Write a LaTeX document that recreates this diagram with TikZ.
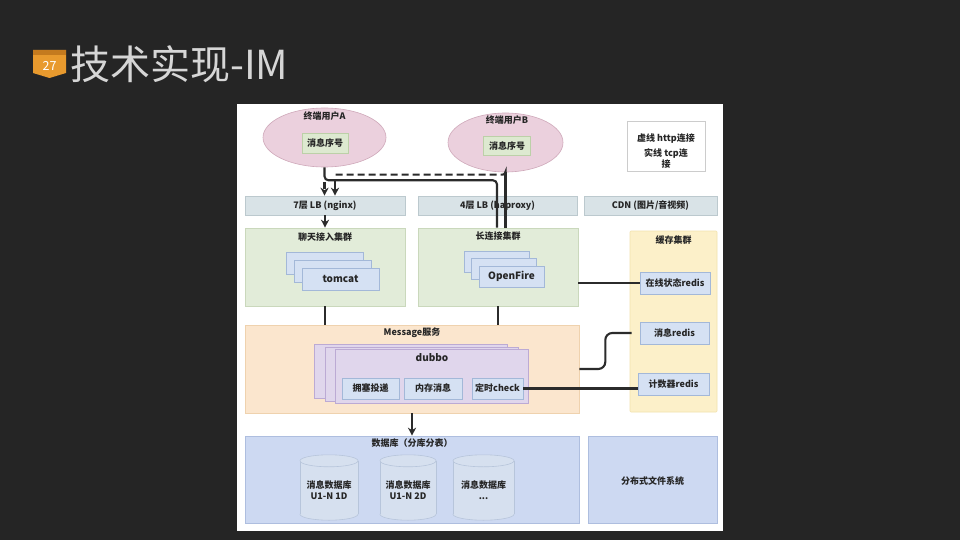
\documentclass[tikz,border=0pt]{standalone}
\usepackage{fontspec}
\setmainfont{Noto Sans CJK SC}
\usetikzlibrary{shapes.geometric,arrows.meta,calc}
\definecolor{bg}{HTML}{252525}
\definecolor{titlec}{HTML}{D6D6D6}
\definecolor{badge}{HTML}{E89A2E}
\definecolor{badgetop}{HTML}{C47A1E}
\definecolor{pinkf}{HTML}{EBD0DD}
\definecolor{pinkd}{HTML}{CFA9BA}
\definecolor{greenf}{HTML}{DDE9D0}
\definecolor{greend}{HTML}{BCD0A8}
\definecolor{clgf}{HTML}{E2ECD9}
\definecolor{clgd}{HTML}{CAD8BC}
\definecolor{lbf}{HTML}{D9E3E7}
\definecolor{lbd}{HTML}{BCC9CE}
\definecolor{bluef}{HTML}{D5E1F3}
\definecolor{blued}{HTML}{A3B8D8}
\definecolor{yellf}{HTML}{FCF0C9}
\definecolor{yelld}{HTML}{F2E2AE}
\definecolor{orgf}{HTML}{FBE6CE}
\definecolor{orgd}{HTML}{EFD2AE}
\definecolor{purf}{HTML}{E0D6EC}
\definecolor{purd}{HTML}{BCAAD4}
\definecolor{dbf}{HTML}{CDD9F2}
\definecolor{dbd}{HTML}{AEBEDF}
\definecolor{cylf}{HTML}{D6E0EF}
\definecolor{cyld}{HTML}{B7C5DB}
\definecolor{linec}{HTML}{2B2B2B}
\tikzset{
  lbl/.style={font=\fontsize{9}{10.5}\selectfont\bfseries, text=black!85, inner sep=0pt},
  boxed/.style={rectangle, draw, line width=0.6pt, inner sep=0pt},
  userell/.style={ellipse, draw=pinkd, fill=pinkf, line width=0.6pt, inner sep=0pt},
  seqbox/.style={boxed, draw=greend, fill=greenf, minimum height=20pt, lbl},
  lbbox/.style={boxed, draw=lbd, fill=lbf, minimum height=19pt, lbl},
  clusterg/.style={boxed, draw=clgd, fill=clgf, minimum height=78pt},
  bluebox/.style={boxed, draw=blued, fill=bluef, lbl},
  cylarea/.style={rectangle, inner sep=0pt, minimum height=65pt},
  cylline/.style={draw=cyld, fill=cylf, line width=0.6pt},
  conn/.style={draw=linec, line width=2.1pt},
  tcp/.style={conn, rounded corners=4pt},
  http/.style={conn, dash pattern=on 7pt off 4pt},
  tip/.style={-{Stealth[length=8pt,width=8pt,inset=2.5pt]}},
}
\begin{document}
\begin{tikzpicture}[x=1pt,y=-1pt]
\useasboundingbox (0,0) rectangle (960,540);
\fill[bg] (0,0) rectangle (960,540);
% title
\fill[badge] (33,50) -- (66,50) -- (66,73) -- (49.5,78) -- (33,73) -- cycle;
\fill[badgetop] (33,50) rectangle (66,55);
\node[text=white, font=\fontsize{12.5}{12.5}\selectfont, inner sep=0pt] (num) at (49.5,66) {27};
\node[anchor=west, text=titlec, font=\fontsize{40}{42}\selectfont, inner sep=0pt] (title) at (70,64) {技术实现-IM};
% panel
\fill[white] (237,104) rectangle (723,531);

% users
\node[userell, minimum width=123pt, minimum height=59pt] (userA) at (324.5,137.5) {};
\node[lbl] (uAt) at (324.5,116) {终端用户A};
\node[seqbox, minimum width=46pt] (seqA) at (325,143) {消息序号};
\node[userell, minimum width=115pt, minimum height=59pt] (userB) at (505.5,142.5) {};
\node[lbl] (uBt) at (507,120.5) {终端用户B};
\node[seqbox, minimum width=47pt, minimum height=19pt] (seqB) at (507,146) {消息序号};

% legend
\node[boxed, draw=black!20, fill=white, minimum width=78pt, minimum height=50pt] (legend) at (666,146) {};
\node[lbl] (lg1) at (666,138.5) {虚线 http连接};
\node[lbl] (lg2) at (666,154) {实线 tcp连};
\node[lbl] (lg3) at (666,164.5) {接};

% LB row
\node[lbbox, minimum width=160pt] (nginx) at (325,205.5) {7层 LB (nginx)};
\node[lbbox, minimum width=159pt] (haproxy) at (497.5,205.5) {4层 LB (haproxy)};
\node[lbbox, minimum width=133pt] (cdn) at (650.5,205.5) {CDN (图片/音视频)};

% clusters
\node[clusterg, minimum width=160pt] (chat) at (325,267) {};
\node[lbl] (chatt) at (325,237) {聊天接入集群};
\node[clusterg, minimum width=160pt] (longc) at (498,267) {};
\node[lbl] (longt) at (498,236.5) {长连接集群};

\node[bluebox, minimum width=77pt, minimum height=22pt] (tc1) at (324.5,263) {};
\node[bluebox, minimum width=77pt, minimum height=22pt] (tc2) at (332.5,271) {};
\node[bluebox, minimum width=77pt, minimum height=22pt, font=\fontsize{10}{10}\selectfont\bfseries] (tc3) at (340.5,279) {tomcat};

\node[bluebox, minimum width=65pt, minimum height=21pt] (of1) at (496.5,261.5) {};
\node[bluebox, minimum width=65pt, minimum height=21pt] (of2) at (504,269) {};
\node[bluebox, minimum width=65pt, minimum height=21pt, font=\fontsize{10}{10}\selectfont\bfseries] (of3) at (511.5,276.5) {OpenFire};

% cache cluster
\node[boxed, draw=yelld, fill=yellf, minimum width=87pt, minimum height=181pt, rounded corners=1pt] (cache) at (673.5,321.5) {};
\node[lbl] (cachet) at (673.5,240) {缓存集群};
\node[bluebox, minimum width=70pt, minimum height=22pt] (online) at (675,283) {在线状态redis};
\node[bluebox, minimum width=69pt, minimum height=22pt] (msgredis) at (674.5,333) {消息redis};
\node[bluebox, minimum width=71pt, minimum height=22pt] (cntredis) at (673.5,384.5) {计数器redis};

% message service
\node[boxed, draw=orgd, fill=orgf, minimum width=334pt, minimum height=88pt] (msg) at (412,369) {};
\node[lbl] (msgt) at (412,333) {Message服务};
\node[boxed, draw=purd, fill=purf, minimum width=193pt, minimum height=54pt] (db1) at (410.5,371) {};
\node[boxed, draw=purd, fill=purf, minimum width=193pt, minimum height=54pt] (db2) at (421.5,374) {};
\node[boxed, draw=purd, fill=purf, minimum width=193pt, minimum height=54pt] (db3) at (432,376.5) {};
\node[lbl, font=\fontsize{10}{10}\selectfont\bfseries] (dubbot) at (432,357.5) {dubbo};
\node[bluebox, minimum width=57pt, minimum height=21pt] (congest) at (370.5,388.5) {拥塞投递};
\node[bluebox, minimum width=58pt, minimum height=21pt] (memmsg) at (433,388.5) {内存消息};
\node[bluebox, minimum width=51pt, minimum height=21pt] (check) at (497.5,388.5) {定时check};

% database
\node[boxed, draw=dbd, fill=dbf, minimum width=334pt, minimum height=87pt] (db) at (412,479.5) {};
\node[lbl] (dbt) at (412,443) {数据库（分库分表）};
\foreach \nm/\cx/\w in {cy1/329/58, cy2/408/56, cy3/483.5/61}{
  \node[cylarea, minimum width=\w pt] (\nm) at (\cx,487.5) {};
  \path[cylline] (\nm.south) ++(0,-6) ellipse [x radius=\w/2, y radius=6];
  \fill[cylf] ($(\nm.north west)+(0,6)$) rectangle ($(\nm.south east)+(0,-6)$);
  \draw[cyld, line width=0.6pt] ($(\nm.north west)+(0,6)$) -- ($(\nm.south west)+(0,-6)$);
  \draw[cyld, line width=0.6pt] ($(\nm.north east)+(0,6)$) -- ($(\nm.south east)+(0,-6)$);
  \path[cylline] (\nm.north) ++(0,6) ellipse [x radius=\w/2, y radius=6];
}
\node[lbl, align=center] (cy1t) at (329,490) {消息数据库\\U1-N 1D};
\node[lbl, align=center] (cy2t) at (408,490) {消息数据库\\U1-N 2D};
\node[lbl, align=center] (cy3t) at (483.5,490) {消息数据库\\...};
\node[boxed, draw=dbd, fill=dbf, minimum width=129pt, minimum height=87pt] (dfs) at (652.5,479.5) {};
\node[lbl] (dfst) at (652.5,481) {分布式文件系统};

% connectors
\draw[tcp] (userA.south) -- ($(userA.south)+(0,13)$) -| ([xshift=-1pt]longc.north);
\draw[conn] (userB.south) -- (userB.south |- longc.north);
\draw[http, tip] ($(userA.south)+(0,15)$) -- (userA.south |- nginx.north);
\draw[http, rounded corners=3pt] (userB.south) |- ($(nginx.north)+(10,-21)$);
\draw[conn, tip] ($(nginx.north)+(10,-15)$) -- ($(nginx.north)+(10,0)$);
\draw[http, tip] (nginx.south) -- (nginx.south |- chat.north);
\draw[conn] (chat.south) -- (chat.south |- msg.north);
\draw[conn] (longc.south) -- (longc.south |- msg.north);
\draw[conn] (longc.east |- online.west) -- (online.west);
\draw[conn, rounded corners=7pt] (msg.east) -- ($(msg.east)+(26,0)$) |- ([xshift=-8pt]msgredis.west);
\draw[conn] (check.east) -- (check.east -| cntredis.west);
\draw[conn, tip] (msg.south) -- (msg.south |- db.north);
\end{tikzpicture}
\end{document}
